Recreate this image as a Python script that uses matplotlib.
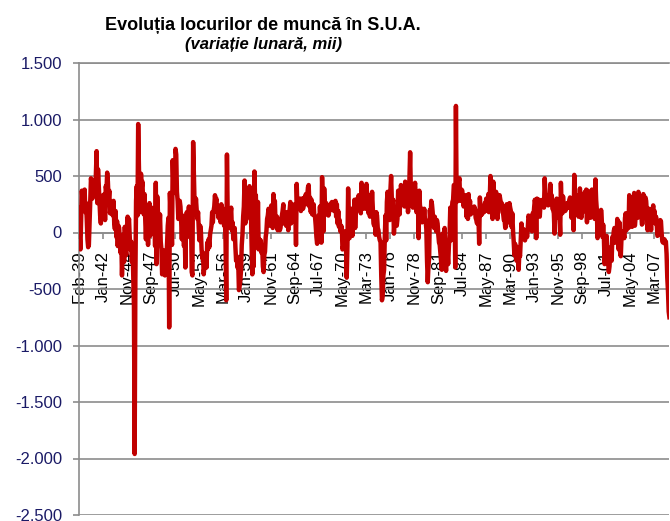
import numpy as np
import matplotlib
matplotlib.use('Agg')
import matplotlib.pyplot as plt
from matplotlib.ticker import FuncFormatter

plt.rcParams['font.family'] = ['Liberation Sans', 'DejaVu Sans']

# variatia lunara a locurilor de munca (mii), feb 1939 - dec 2008, cate un rand pe an
jobs_1930s = [220, -40, -150, 120, 370, 300, 350, 250, 380, 180, 260]
jobs_1940s = [
    120, -60, -130, -110, 90, 300, 480, 420, 300, 460, 350, 410,
    380, 520, 720, 260, 560, 430, 300, 150, 80, 220, 130, 330,
    190, 340, 110, 410, 370, 530, 450, 290, 370, 170, 250, 200,
    250, 150, 280, 80, 30, 190, -40, 100, -120, 60, 40, -90,
    -180, -60, -380, -150, -20, -260, 50, -100, -200, 30, 140, 80,
    120, -40, -150, -80, -260, -120, -380, -650, -1960, -420, 280, 410,
    150, 960, 600, 300, 180, 520, 390, 450, 280, 160, 340, 120,
    -60, 200, 120, -110, 80, 260, -30, 180, 220, 40, 130, 90,
    150, -120, 440, -280, 320, 190, 100, 40, 160, -80, -150, -370,
    -320, -250, -160, -380, -200, -260, -100, 60, 130, -840, 350, 180,
]
jobs_1950s = [
    130, -110, 640, 420, 500, 350, 740, 690, 360, 280, 120, 210,
    280, 230, 100, -60, 150, 40, -120, 20, -310, 90, 180, 60,
    120, 230, -40, 60, 110, -350, -380, 800, 520, 260, 170, 300,
    200, 120, 180, 30, -70, 60, 10, -150, -230, -180, -370, -300,
    -280, -200, -310, -90, -150, -60, -130, -20, 20, 60, 180, 90,
    190, 230, 330, 260, 300, 180, 240, 130, 160, 220, 90, 250,
    120, 90, 210, 60, 140, -80, -600, 690, 180, 70, 130, 40,
    160, 220, 20, 90, -60, -20, 40, -130, -250, -210, -310, -260,
    -510, -470, -420, -330, -110, -20, 140, 230, 460, 80, 370, 120,
    220, 260, 350, 410, 280, 200, -120, -370, -20, -300, 540, 260,
]
jobs_1960s = [
    330, 60, -130, 270, -150, -60, -100, -70, -180, -120, -300, -350,
    -200, -170, -40, 10, 120, 150, 210, 130, 60, 180, 240, 120,
    40, 340, 210, 280, 60, 100, 140, 20, 120, 80, 20, 40,
    110, 150, 190, 250, 80, 120, 170, 60, 180, 160, 20, 180,
    200, 270, 80, 220, 120, 140, 180, 250, 200, -110, 430, 230,
    220, 280, 240, 300, 190, 230, 300, 210, 250, 310, 280, 340,
    250, 320, 400, 420, 230, 310, 180, 290, 160, 200, 250, 150,
    140, 60, -40, -100, 60, 150, 40, 230, 100, -90, 490, 280,
    10, 390, 210, 160, 260, 190, 230, 150, 180, 240, 200, 260,
    270, 240, 250, 190, 220, 280, 140, 250, 80, 190, 50, 110,
]
jobs_1970s = [
    10, 60, 50, -150, -120, -80, 10, -90, -120, -400, -120, 390,
    90, -50, 70, 190, 210, -30, 80, 150, 290, 40, 190, 240,
    300, 230, 330, 240, 260, 170, 440, 290, 210, 380, 230, 310,
    210, 430, 320, 250, 170, 330, 140, 280, 200, 360, 230, 80,
    60, 100, -20, 180, 150, 40, 20, -40, -70, -80, -380, -600,
    -560, -380, -330, -50, 150, -70, 270, 360, 140, 250, 110, 370,
    500, 300, 260, 290, -10, 110, 220, 140, 60, 120, 370, 230,
    160, 280, 420, 350, 380, 400, 260, 230, 450, 300, 390, 350,
    180, 300, 470, 710, 370, 420, 250, 220, 320, 380, 440, 300,
    180, 330, 300, -50, 370, 230, 220, 100, 90, 180, 110, 210,
]
jobs_1980s = [
    120, 110, 30, -250, -440, -300, -220, 200, 110, 280, 250, 180,
    90, 40, 140, 70, 10, 110, 80, -20, -90, -110, -180, -250,
    -330, -10, -130, -280, 40, -240, -340, -150, -180, -280, -120, -20,
    220, -70, 180, 270, 290, 420, 410, -310, 1120, 270, 360, 380,
    450, 480, 280, 360, 380, 370, 300, 230, 290, 280, 330, 140,
    260, 120, 340, 190, 280, 160, 180, 210, 200, 180, 230, 210,
    130, 110, 80, 190, 130, -100, 310, 150, 200, 160, 200, 190,
    180, 260, 240, 300, 230, 190, 340, 180, 300, 500, 290, 330,
    120, 450, 270, 250, 220, 360, 220, 120, 330, 250, 330, 290,
    260, 260, 180, 170, 110, 120, 40, 50, 250, 110, 240, 90,
]
jobs_1990s = [
    260, 220, 190, 50, 170, 20, -80, -200, -100, -170, -250, -130,
    -200, -330, -180, -210, -70, 80, -40, 20, 30, -10, -70, 10,
    20, -40, 40, 150, 130, 70, 50, 140, 10, 170, 130, 220,
    290, 240, -50, 300, 250, 180, 290, 140, 250, 260, 240, 290,
    280, 220, 480, 350, 320, 330, 310, 240, 290, 270, 430, 270,
    330, 210, 200, 170, -10, 230, 130, 300, 210, 150, 150, 140,
    -20, 440, 250, 170, 320, 240, 190, 190, 200, 220, 260, 220,
    240, 290, 310, 300, 130, 260, 280, 20, 510, 280, 310, 330,
    320, 200, 140, 270, 390, 190, 130, 340, 180, 200, 260, 360,
    250, 380, 90, 370, 230, 260, 320, 130, 180, 380, 250, 290,
]
jobs_2000s = [
    250, 120, 470, 290, 200, -50, 160, 10, 110, -10, 200, 110,
    -40, 70, -40, -280, -50, -130, -30, -160, -250, -350, -300, -170,
    -130, -250, -40, -80, 10, 40, -90, -10, -80, 120, 10, -150,
    90, -170, -210, -50, -30, -20, 10, -50, 130, 170, 20, 90,
    150, 40, 330, 250, 310, 80, 50, 120, 160, 350, 60, 130,
    130, 240, 130, 360, 170, 240, 240, 190, 70, 80, 340, 160,
    280, 310, 280, 180, 20, 80, 210, 180, 160, 20, 210, 170,
    240, 90, 190, 80, 140, 80, -30, -20, 90, 80, 110, 100,
    -10, -80, -90, -70, -60, -100, -80, -190, -400, -520, -700, -750,
]

tick_labels = ['Feb-39', 'Jan-42', 'Nov-44', 'Sep-47', 'Jul-50', 'May-53', 'Mar-56',
               'Jan-59', 'Nov-61', 'Sep-64', 'Jul-67', 'May-70', 'Mar-73', 'Jan-76',
               'Nov-78', 'Sep-81', 'Jul-84', 'May-87', 'Mar-90', 'Jan-93', 'Nov-95',
               'Sep-98', 'Jul-01', 'May-04', 'Mar-07']
yticks = [-2500, -2000, -1500, -1000, -500, 0, 500, 1000, 1500]

values = np.array(jobs_1930s + jobs_1940s + jobs_1950s + jobs_1960s +
                  jobs_1970s + jobs_1980s + jobs_1990s + jobs_2000s)
x = np.arange(len(values))

grid_col = '#8c8c8c'

fig = plt.figure(figsize=(6.70, 5.21), dpi=100)
ax = fig.add_axes([79 / 670, 6 / 521, 590.4 / 670, 452 / 521])

# axa orizontala la zero (inainte de etichete, altfel se reseteaza)
ax.spines['right'].set_visible(False)
for s in ['left', 'top', 'bottom']:
    ax.spines[s].set_color(grid_col)
    ax.spines[s].set_linewidth(1.2)
ax.spines['bottom'].set_position(('data', 0))

ax.plot(x, values, color='#c00000', lw=3.2, solid_joinstyle='round', zorder=3)

ax.set_xlim(0, len(values) - 1)
ax.set_ylim(-2500, 1500)
ax.set_yticks(yticks)
ax.yaxis.set_major_formatter(FuncFormatter(lambda v, p: f'{v:,.0f}'.replace(',', '.')))
ax.grid(axis='y', color=grid_col, lw=1.2)
ax.set_axisbelow(True)

ax.set_xticks(x[::34])
ax.set_xticklabels(tick_labels, rotation=90, fontsize=12)

ax.tick_params(axis='x', direction='out', length=4, width=1.2, color=grid_col, pad=9)
ax.tick_params(axis='y', direction='out', length=4.3, width=1.2, color=grid_col,
               pad=8, labelsize=12, labelcolor='#1a1a66')

fig.text(263 / 670, 1 - 30 / 521, 'Evoluția locurilor de muncă în S.U.A.',
         ha='center', va='baseline', fontsize=13, fontweight='bold')
fig.text(263.5 / 670, 1 - 48.5 / 521, '(variație lunară, mii)',
         ha='center', va='baseline', fontsize=12, fontweight='bold', style='italic')

fig.savefig('out.png', dpi=100)
